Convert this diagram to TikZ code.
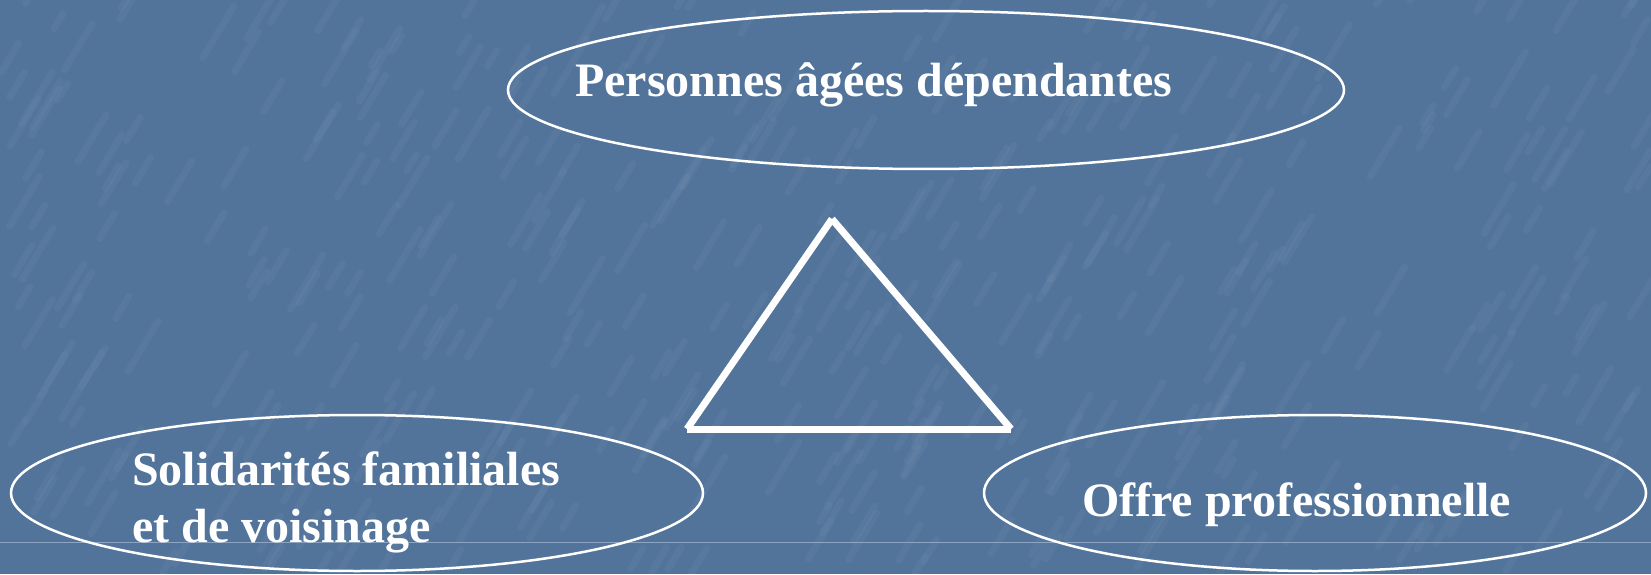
\documentclass[tikz,border=0pt]{standalone}
\usepackage{fontspec}
\setmainfont{Liberation Serif}
\usetikzlibrary{shapes.geometric}
\definecolor{bgblue}{RGB}{82,116,155}
\definecolor{faint}{RGB}{140,165,195}
\tikzset{
  oval/.style={ellipse, draw=white, line width=2.5pt, inner sep=0pt},
  lbl/.style={text=white, font=\fontsize{48}{57}\selectfont\bfseries, inner sep=0pt, anchor=base west},
  tri/.style={draw=white, line width=7pt, line cap=butt},
  streak/.style={white, opacity=0.035, line width=7pt, line cap=round}
}
\begin{document}
\begin{tikzpicture}[x=1pt,y=1pt]
\fill[bgblue] (0,0) rectangle (1651,574);
\useasboundingbox (0,0) rectangle (1651,574);
% texture
\pgfmathsetseed{11}
\foreach \i in {1,...,420} {
  \pgfmathsetmacro{\px}{rnd*1651}
  \pgfmathsetmacro{\py}{rnd*574}
  \pgfmathsetmacro{\pl}{15+rnd*40}
  \draw[streak] (\px,\py) -- ++(\pl*0.6,\pl);
}
% faint line
\coordinate (fl) at (0,32);
\coordinate (fr) at (1651,32);
\draw[faint, line width=0.8pt] (fl) -- (fr);
% ellipses
\node[oval, minimum width=836pt, minimum height=158pt] (top) at (926,484) {};
\node[oval, minimum width=692pt, minimum height=156pt] (left) at (357,81) {};
\node[oval, minimum width=662pt, minimum height=156pt] (right) at (1315,81) {};
% texts
\node[lbl] (ttop) at (575,477) {Personnes âgées dépendantes};
\node[lbl] (tleft1) at (132,89) {Solidarités familiales};
\node[lbl] (tleft2) at (132,32) {et de voisinage};
\node[lbl] (tright) at (1082,58) {Offre professionnelle};
% triangle
\coordinate (apex) at (832,355);
\coordinate (bl) at (687,145);
\coordinate (br) at (1011,145);
\draw[tri] (apex) -- (bl);
\draw[tri] (apex) -- (br);
\draw[tri] (bl) -- (br);
\end{tikzpicture}
\end{document}
